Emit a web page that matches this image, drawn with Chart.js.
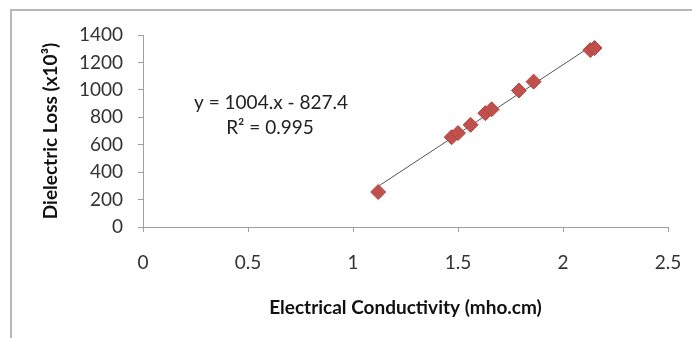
<!DOCTYPE html>
<html>
<head>
<meta charset="utf-8">
<script src="https://cdn.jsdelivr.net/npm/chart.js@4/dist/chart.umd.min.js"></script>
<style>
  body { margin: 0; background: #fff; }
  #wrap { position: relative; width: 692px; height: 338px; }
  #frame { position: absolute; left: 10px; top: 9px; right: 0; bottom: 0;
           border-left: 2px solid #b8b8b8; border-top: 2px solid #b8b8b8; pointer-events: none; }
</style>
</head>
<body>
<div id="wrap">
  <canvas id="chartCanvas" width="692" height="338"></canvas>
  <div id="frame"></div>
</div>
<script>
// values
const conductivity = [1.12, 1.47, 1.50, 1.56, 1.63, 1.66, 1.79, 1.86, 2.13, 2.15];
const dielectricLoss = [255, 655, 685, 745, 830, 858, 995, 1060, 1290, 1305];
const xTicks = [0, 0.5, 1, 1.5, 2, 2.5];
const yTicks = [0, 200, 400, 600, 800, 1000, 1200, 1400];
const equationText = 'y = 1004.x - 827.4';
const r2Text = 'R\u00b2 = 0.995';

const chartCanvas = document.getElementById('chartCanvas');
const font = 'Lato, "Open Sans", sans-serif';

// least squares line through the points
function linearFit(xs, ys) {
    const n = xs.length;
    const mx = xs.reduce((a, b) => a + b, 0) / n;
    const my = ys.reduce((a, b) => a + b, 0) / n;
    let sxy = 0, sxx = 0;
    for (let i = 0; i < n; i++) {
        sxy += (xs[i] - mx) * (ys[i] - my);
        sxx += (xs[i] - mx) * (xs[i] - mx);
    }
    const slope = sxy / sxx;
    return { slope: slope, intercept: my - slope * mx };
}

const fit = linearFit(conductivity, dielectricLoss);
const xMin = Math.min(...conductivity);
const xMax = Math.max(...conductivity);
const trendPoints = [xMin, xMax].map(x => ({ x: x, y: fit.slope * x + fit.intercept }));

// equation label drawn on top of the plot
const equationLabel = {
    id: 'equationLabel',
    afterDraw(chart) {
        const ctx = chart.ctx;
        ctx.save();
        ctx.fillStyle = '#222';
        ctx.font = '19px ' + font;
        ctx.textAlign = 'center';
        ctx.textBaseline = 'middle';
        ctx.fillText(equationText, 271, 103);
        ctx.fillText(r2Text, 270, 128);
        ctx.restore();
    }
};

new Chart(chartCanvas, {
    type: 'scatter',
    data: {
        datasets: [
            {
                label: 'trend',
                type: 'line',
                data: trendPoints,
                borderColor: '#555',
                borderWidth: 1,
                pointRadius: 0,
                fill: false,
                order: 2
            },
            {
                label: 'Dielectric Loss',
                data: conductivity.map((x, i) => ({ x: x, y: dielectricLoss[i] })),
                pointStyle: 'rectRot',
                pointRadius: 7.5,
                backgroundColor: '#c0504d',
                borderColor: '#b5443f',
                borderWidth: 1,
                order: 1
            }
        ]
    },
    options: {
        responsive: false,
        animation: false,
        layout: { padding: { left: 32, right: 24, top: 35, bottom: 19 } },
        plugins: {
            legend: { display: false },
            tooltip: { enabled: false }
        },
        scales: {
            x: {
                type: 'linear',
                min: 0,
                max: 2.5,
                afterBuildTicks: axis => { axis.ticks = xTicks.map(v => ({ value: v })); },
                afterFit: axis => {
                    axis.height = 92;
                    axis.paddingLeft = 0;
                    axis.paddingRight = 0;
                },
                grid: { drawOnChartArea: false, drawTicks: true, tickLength: 5, color: '#a0a0a0' },
                border: { color: '#a0a0a0' },
                ticks: {
                    color: '#333', font: { family: font, size: 19 }, padding: 19, maxRotation: 0,
                    callback: v => String(v)
                },
                title: {
                    display: true,
                    text: 'Electrical Conductivity (mho.cm)',
                    color: '#111',
                    font: { family: font, size: 19, weight: 'bold' },
                    padding: { top: 0, bottom: 0 }
                }
            },
            y: {
                min: 0,
                max: 1400,
                afterBuildTicks: axis => { axis.ticks = yTicks.map(v => ({ value: v })); },
                afterFit: axis => { axis.width = 111; },
                grid: { drawOnChartArea: false, drawTicks: true, tickLength: 5, color: '#a0a0a0' },
                border: { color: '#a0a0a0' },
                ticks: {
                    color: '#333', font: { family: font, size: 19 }, padding: 15,
                    callback: v => String(v)
                },
                title: {
                    display: true,
                    text: 'Dielectric Loss (x10\u00b3)',
                    color: '#111',
                    font: { family: font, size: 19, weight: 'bold' },
                    padding: { top: 7, bottom: 0 }
                }
            }
        }
    },
    plugins: [equationLabel]
});
</script>
</body>
</html>
